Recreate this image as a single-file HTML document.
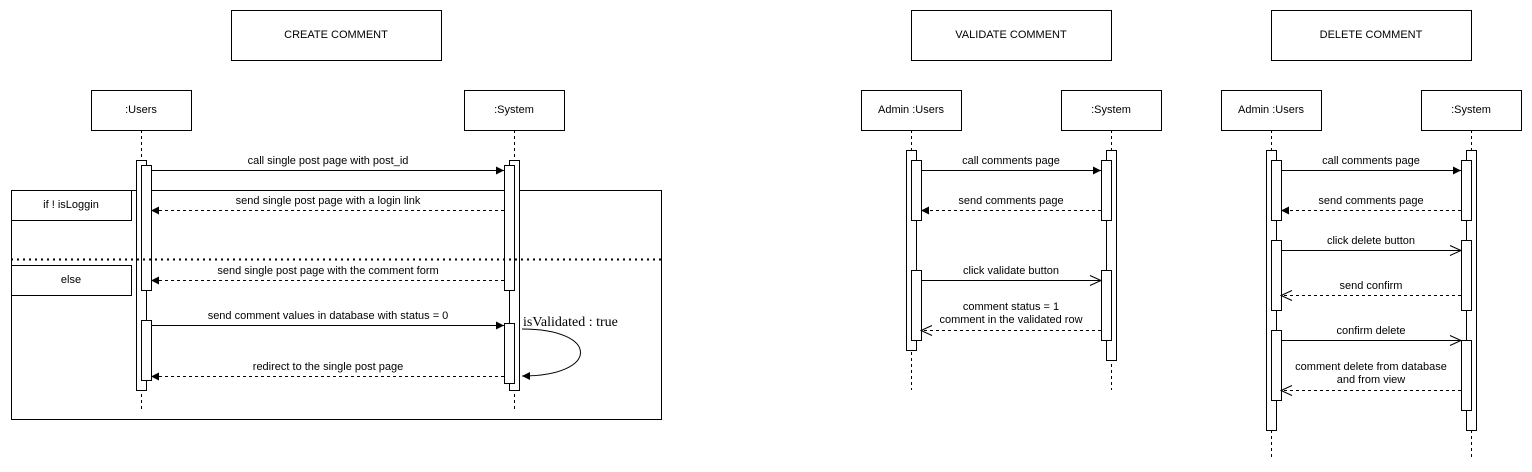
<!DOCTYPE html>
<html><head><style>body{margin:0;background:#fff}svg{display:block}text{font-family:"Liberation Sans",sans-serif;font-size:11px;fill:#000}</style></head><body>
<svg width="1532" height="472" xmlns="http://www.w3.org/2000/svg">
<defs>
<marker id="f" markerWidth="10" markerHeight="10" refX="9" refY="5" orient="auto" markerUnits="userSpaceOnUse"><path d="M1,1 L9,5 L1,9 Z" fill="#000"/></marker>
<marker id="o" markerWidth="14" markerHeight="12" refX="12" refY="6" orient="auto" markerUnits="userSpaceOnUse"><path d="M1,1 L12,6 L1,11" fill="none" stroke="#000"/></marker>
</defs>
<g fill="#fff" stroke="#000" stroke-width="1">
<rect x="231.5" y="10.5" width="210" height="50"/>
<rect x="911.5" y="10.5" width="200" height="50"/>
<rect x="1271.5" y="10.5" width="200" height="50"/>
<rect x="91.5" y="90.5" width="100" height="40"/><rect x="464.5" y="90.5" width="100" height="40"/>
<rect x="861.5" y="90.5" width="100" height="40"/><rect x="1061.5" y="90.5" width="100" height="40"/>
<rect x="1221.5" y="90.5" width="100" height="40"/><rect x="1421.5" y="90.5" width="100" height="40"/>
</g>
<g stroke="#000" stroke-dasharray="3,3">
<line x1="141.5" y1="130" x2="141.5" y2="410"/><line x1="514.5" y1="130" x2="514.5" y2="410"/>
<line x1="911.5" y1="130" x2="911.5" y2="390"/><line x1="1111.5" y1="130" x2="1111.5" y2="390"/>
<line x1="1271.5" y1="130" x2="1271.5" y2="460"/><line x1="1471.5" y1="130" x2="1471.5" y2="460"/>
</g>
<g fill="#fff" stroke="#000">
<rect x="11.5" y="190.5" width="650" height="229" fill="none"/>
<rect x="136.5" y="160.5" width="10" height="230"/><rect x="141.5" y="165.5" width="10" height="125"/><rect x="141.5" y="320.5" width="10" height="60"/>
<rect x="509.5" y="160.5" width="10" height="230"/><rect x="504.5" y="165.5" width="10" height="125"/><rect x="504.5" y="323.5" width="10" height="60"/>
<rect x="11.5" y="190.5" width="120" height="30"/><rect x="11.5" y="265.5" width="120" height="30"/>
<rect x="906.5" y="150.5" width="10" height="200"/><rect x="911.5" y="160.5" width="10" height="60"/><rect x="911.5" y="270.5" width="10" height="70"/>
<rect x="1106.5" y="150.5" width="10" height="210"/><rect x="1101.5" y="160.5" width="10" height="60"/><rect x="1101.5" y="270.5" width="10" height="70"/>
<rect x="1266.5" y="150.5" width="10" height="280"/><rect x="1271.5" y="160.5" width="10" height="60"/><rect x="1271.5" y="240.5" width="10" height="70"/><rect x="1271.5" y="330.5" width="10" height="70"/>
<rect x="1466.5" y="150.5" width="10" height="280"/><rect x="1461.5" y="160.5" width="10" height="60"/><rect x="1461.5" y="240.5" width="10" height="70"/><rect x="1461.5" y="340.5" width="10" height="70"/>
</g>
<line x1="11" y1="259.5" x2="661" y2="259.5" stroke="#000" stroke-width="2" stroke-dasharray="2,4"/>
<g stroke="#000" fill="none">
<line x1="151" y1="170.5" x2="504" y2="170.5" marker-end="url(#f)"/>
<line x1="504" y1="210.5" x2="151" y2="210.5" stroke-dasharray="3,3" marker-end="url(#f)"/>
<line x1="504" y1="280.5" x2="151" y2="280.5" stroke-dasharray="3,3" marker-end="url(#f)"/>
<line x1="151" y1="325.5" x2="504" y2="325.5" marker-end="url(#f)"/>
<line x1="504" y1="376.5" x2="151" y2="376.5" stroke-dasharray="3,3" marker-end="url(#f)"/>
<path d="M522,329 C600,329 600,376 522,376" marker-end="url(#f)"/>
<line x1="921" y1="170.5" x2="1101" y2="170.5" marker-end="url(#f)"/>
<line x1="1101" y1="210.5" x2="921" y2="210.5" stroke-dasharray="3,3" marker-end="url(#f)"/>
<line x1="921" y1="280.5" x2="1101" y2="280.5" marker-end="url(#o)"/>
<line x1="1101" y1="330.5" x2="921" y2="330.5" stroke-dasharray="3,3" marker-end="url(#o)"/>
<line x1="1281" y1="170.5" x2="1461" y2="170.5" marker-end="url(#f)"/>
<line x1="1461" y1="210.5" x2="1281" y2="210.5" stroke-dasharray="3,3" marker-end="url(#f)"/>
<line x1="1281" y1="250.5" x2="1461" y2="250.5" marker-end="url(#o)"/>
<line x1="1461" y1="295.5" x2="1281" y2="295.5" stroke-dasharray="3,3" marker-end="url(#o)"/>
<line x1="1281" y1="340.5" x2="1461" y2="340.5" marker-end="url(#o)"/>
<line x1="1461" y1="390.5" x2="1281" y2="390.5" stroke-dasharray="3,3" marker-end="url(#o)"/>
</g>
<g text-anchor="middle">
<text x="336" y="38">CREATE COMMENT</text><text x="1011" y="38">VALIDATE COMMENT</text><text x="1371" y="38">DELETE COMMENT</text>
<text x="141" y="113">:Users</text><text x="514" y="113">:System</text>
<text x="911" y="113">Admin :Users</text><text x="1111" y="113">:System</text>
<text x="1271" y="113">Admin :Users</text><text x="1471" y="113">:System</text>
<text x="71" y="208">if ! isLoggin</text><text x="71" y="283">else</text>
<text x="328" y="164" font-size="10">call single post page with post_id</text>
<text x="328" y="204" font-size="10">send single post page with a login link</text>
<text x="328" y="274" font-size="10">send single post page with the comment form</text>
<text x="328" y="319" font-size="10">send comment values in database with status = 0</text>
<text x="328" y="370" font-size="10">redirect to the single post  page</text>
<text x="1011" y="164" font-size="10">call comments page</text>
<text x="1011" y="204" font-size="10">send comments page</text>
<text x="1011" y="274" font-size="10">click validate button</text>
<text x="1011" y="310" font-size="10">comment status = 1</text>
<text x="1011" y="323" font-size="10">comment in the validated row</text>
<text x="1371" y="164" font-size="10">call comments page</text>
<text x="1371" y="204" font-size="10">send comments page</text>
<text x="1371" y="244" font-size="10">click delete button</text>
<text x="1371" y="289" font-size="10">send confirm</text>
<text x="1371" y="334" font-size="10">confirm delete</text>
<text x="1371" y="370" font-size="10">comment delete from database</text>
<text x="1371" y="383" font-size="10">and from view</text>
</g>
<text x="523" y="326" style="font-family:'Liberation Serif',serif;font-size:14px">isValidated : true</text>
</svg>
</body></html>
